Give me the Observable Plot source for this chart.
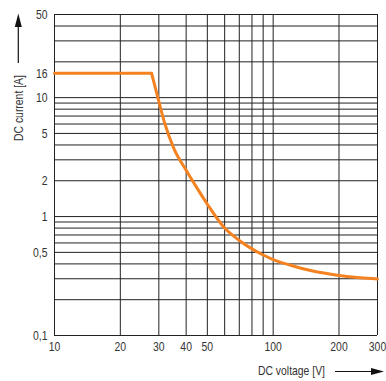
<!DOCTYPE html>
<html><head><meta charset="utf-8">
<script src="https://cdn.jsdelivr.net/npm/d3@7"></script>
<script src="https://cdn.jsdelivr.net/npm/@observablehq/plot@0.6"></script>
<style>body{margin:0;background:#fff}</style>
</head><body><div id="chart"></div>
<script>
const xGrid = [10, 20, 30, 40, 50, 60, 70, 80, 90, 100, 200, 300];
const yGrid = [0.1, 0.2, 0.3, 0.4, 0.5, 0.6, 0.7, 0.8, 0.9, 1, 2, 3, 4, 5, 6, 7, 8, 9, 10, 20, 30, 40, 50];
const xTicks = [10, 20, 30, 40, 50, 100, 200, 300];
const yTicks = [0.1, 0.5, 1, 2, 5, 10, 16, 50];
const plateauV = [10, 27.8];
const plateauA = [16, 16];
const dropV = [27.8, 30, 32, 35, 40, 45, 50, 60, 70, 80, 90, 100, 120, 150, 200, 250, 300];
const dropA = [16, 9.3, 6.0, 3.8, 2.45, 1.72, 1.27, 0.80, 0.63, 0.535, 0.475, 0.435, 0.39, 0.35, 0.32, 0.306, 0.299];
const xLabel = "DC voltage [V]";
const yLabel = "DC current [A]";

const plateau = plateauV.map((v, i) => ({v, a: plateauA[i]}));
const drop = dropV.map((v, i) => ({v, a: dropA[i]}));
const fmt = d => String(d).replace(".", ",");
const FONT = "'Liberation Sans', Arial, sans-serif";
const ORANGE = "#f58220";

const chart = Plot.plot({
  width: 386,
  height: 381,
  marginLeft: 54,
  marginRight: 9,
  marginTop: 14,
  marginBottom: 46,
  style: {fontFamily: FONT, fontSize: "13px", color: "#333", background: "#fff"},
  x: {type: "log", domain: [10, 300], axis: null},
  y: {type: "log", domain: [0.1, 50], axis: null},
  marks: [
    Plot.ruleX(xGrid, {stroke: "#222", strokeWidth: 1}),
    Plot.ruleY(yGrid, {stroke: "#222", strokeWidth: 1}),
    Plot.line(plateau, {x: "v", y: "a", stroke: ORANGE, strokeWidth: 3}),
    Plot.line(drop, {x: "v", y: "a", stroke: ORANGE, strokeWidth: 3, curve: "monotone-x"}),
    Plot.text(xTicks, {x: d => d, frameAnchor: "bottom", lineAnchor: "top", dy: 6, text: d => String(d), fill: "#333", fontSize: 13}),
    Plot.text(yTicks, {y: d => d, frameAnchor: "left", textAnchor: "end", dx: -7, text: fmt, fill: "#333", fontSize: 13})
  ]
});
document.getElementById("chart").appendChild(chart);

const svg = d3.select(chart);
const g = svg.append("g").attr("fill", "#111").attr("stroke", "#111");
// x label + arrow
g.append("text").attr("x", 325).attr("y", 374.5).attr("text-anchor", "end")
  .attr("stroke", "none").attr("fill", "#333").style("font-family", FONT).style("font-size", "13px").text(xLabel);
g.append("line").attr("x1", 335).attr("x2", 373).attr("y1", 371.5).attr("y2", 371.5).attr("stroke-width", 1.2);
g.append("path").attr("d", "M371,368 L384,371.5 L371,375 Z").attr("stroke", "none");
// y label + arrow
g.append("text").attr("transform", "translate(22.7,141) rotate(-90)").attr("text-anchor", "start")
  .attr("stroke", "none").attr("fill", "#333").style("font-family", FONT).style("font-size", "13px").text(yLabel);
g.append("line").attr("x1", 18.3).attr("x2", 18.3).attr("y1", 63).attr("y2", 25).attr("stroke-width", 1.2);
g.append("path").attr("d", "M14.8,27 L18.3,13.5 L21.8,27 Z").attr("stroke", "none");

// condense all texts horizontally (reference uses a narrow face)
svg.selectAll("text").each(function() {
  const len = this.getComputedTextLength();
  if (len > 0) {
    this.setAttribute("textLength", (len * 0.8).toFixed(2));
    this.setAttribute("lengthAdjust", "spacingAndGlyphs");
  }
});
</script>
</body></html>
